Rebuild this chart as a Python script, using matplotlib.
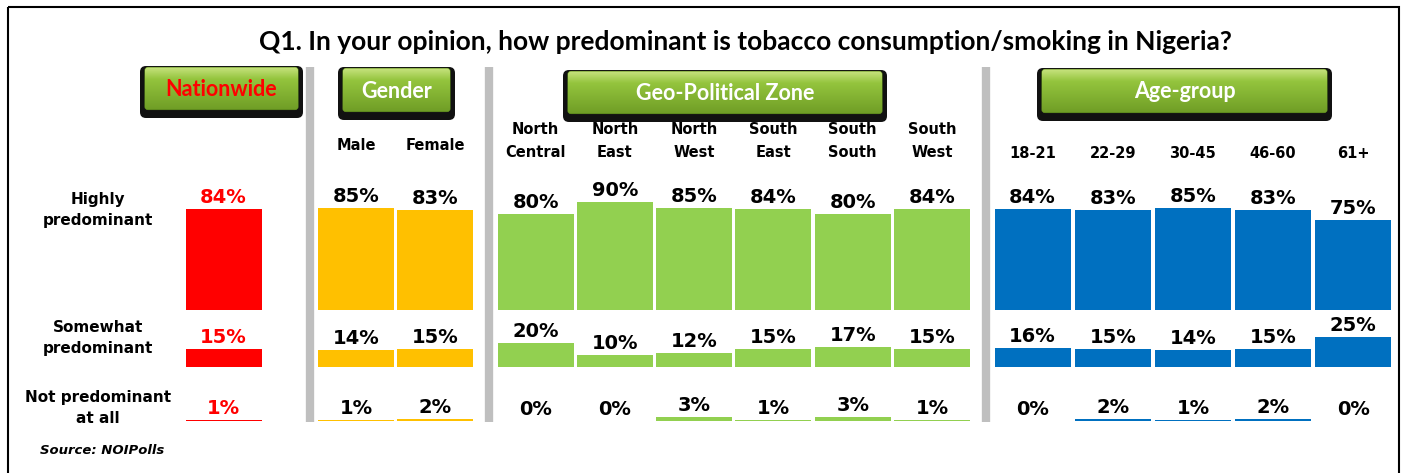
import numpy as np
import matplotlib
matplotlib.use("Agg")
import matplotlib.pyplot as plt
from matplotlib.patches import FancyBboxPatch, Rectangle

# ---- data ----
groups = ["Nationwide", "Gender", "Geo-Political Zone", "Age-group"]
group_cats = [
    [""],
    ["Male", "Female"],
    ["North\nCentral", "North\nEast", "North\nWest", "South\nEast", "South\nSouth", "South\nWest"],
    ["18-21", "22-29", "30-45", "46-60", "61+"],
]
row_labels = ["Highly\npredominant", "Somewhat\npredominant", "Not predominant\nat all"]
highly = [[84], [85, 83], [80, 90, 85, 84, 80, 84], [84, 83, 85, 83, 75]]
somewhat = [[15], [14, 15], [20, 10, 12, 15, 17, 15], [16, 15, 14, 15, 25]]
not_at_all = [[1], [1, 2], [0, 0, 3, 1, 3, 1], [0, 2, 1, 2, 0]]

# ---- layout (pixel coords, y downwards) ----
W, H = 1402, 473
group_x0 = [223.5, 356, 535.5, 1032.5]       # centre of first bar in each group
group_step = [0, 79, 79.3, 80.2]
bar_w = 76
row_base = [310, 367, 421]
row_label_y = [210, 338, 408]
scale = 1.2                                   # px per percent
colors = ["#FF0000", "#FFC000", "#92D050", "#0070C0"]
label_colors = ["#FF0000", "black", "black", "black"]
separators = [309.5, 488.5, 985.5]
buttons = [(140, 66, 163, 52), (338, 67, 117, 53), (563, 70, 324, 52), (1037, 68, 295, 53)]
button_text_colors = ["#FF0000", "white", "white", "white"]

fig = plt.figure(figsize=(W / 100, H / 100), dpi=100)
ax = fig.add_axes([0, 0, 1, 1])
ax.set_xlim(0, W)
ax.set_ylim(H, 0)
ax.axis("off")

# outer frame
ax.add_patch(Rectangle((8, 7), 1391, 480, fill=False, edgecolor="black", lw=1.5, clip_on=False))

ax.text(745, 42, "Q1. In your opinion, how predominant is tobacco consumption/smoking in Nigeria?",
        ha="center", va="center", fontsize=19, fontweight="bold", family="Lato")

# separators
for sx in separators:
    ax.plot([sx, sx], [67, 422], color="#BFBFBF", lw=6, solid_capstyle="butt")

# header buttons with gradient
top_c = np.array([0.80, 0.90, 0.52])
mid_c = np.array([0.58, 0.77, 0.24])
bot_c = np.array([0.44, 0.62, 0.15])
img = np.zeros((100, 1, 3))
for i, t in enumerate(np.linspace(0, 1, 100)):
    if t < 0.3:
        img[i, 0] = top_c + (mid_c - top_c) * (t / 0.3)
    else:
        img[i, 0] = mid_c + (bot_c - mid_c) * ((t - 0.3) / 0.7)

for (bx, by, bw, bh), name, tc in zip(buttons, groups, button_text_colors):
    shadow = FancyBboxPatch((bx, by), bw, bh, boxstyle="round,pad=0,rounding_size=6",
                            facecolor="#111111", edgecolor="none")
    ax.add_patch(shadow)
    green = FancyBboxPatch((bx + 5, by + 1.5), bw - 10, bh - 10, boxstyle="round,pad=0,rounding_size=3",
                           facecolor="#8DBB3C", edgecolor="#5E8A1E", lw=0.8)
    ax.add_patch(green)
    im = ax.imshow(img, extent=(bx + 5, bx + bw - 5, by + bh - 8.5, by + 1.5), aspect="auto",
                   interpolation="bilinear", zorder=2)
    im.set_clip_path(green)
    ax.text(bx + bw / 2, by + (bh - 8) / 2 + 1.5, name, ha="center", va="center",
            fontsize=15.5, fontweight="bold", color=tc, family="Lato", zorder=3)

# row labels
for lab, yc in zip(row_labels, row_label_y):
    ax.text(98, yc, lab, ha="center", va="center",
            fontsize=11, fontweight="bold", linespacing=1.55)

# bars
for gi, cats in enumerate(group_cats):
    xs = group_x0[gi] + group_step[gi] * np.arange(len(cats))
    for ri, series in enumerate([highly, somewhat, not_at_all]):
        vals = np.array(series[gi], dtype=float)
        ax.bar(xs, -vals * scale, bottom=row_base[ri], width=bar_w, color=colors[gi],
               edgecolor="none")
        for x, v in zip(xs, vals):
            ax.text(x, row_base[ri] - v * scale - 2, f"{int(v)}%", ha="center", va="bottom",
                    fontsize=14, color=label_colors[gi], fontweight="bold")
    # category labels
    for x, c in zip(xs, cats):
        if not c:
            continue
        yc = 141 if "\n" in c else (145 if gi == 1 else 153)
        ax.text(x, yc, c, ha="center", va="center", fontsize=10.5, fontweight="bold",
                linespacing=1.6)

ax.text(40, 450, "Source: NOIPolls", ha="left", va="center", fontsize=9.5,
        fontweight="bold", fontstyle="italic")

fig.savefig("out.png", dpi=100)
